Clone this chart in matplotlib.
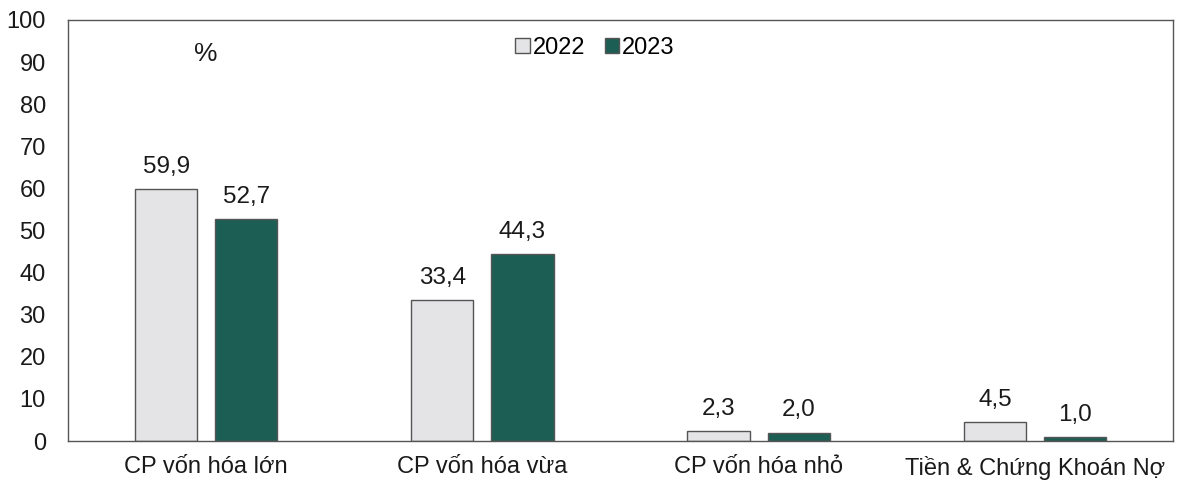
import matplotlib.pyplot as plt
import numpy as np

categories = ["CP vốn hóa lớn", "CP vốn hóa vừa", "CP vốn hóa nhỏ", "Tiền & Chứng Khoán Nợ"]
values_2022 = [59.9, 33.4, 2.3, 4.5]
values_2023 = [52.7, 44.3, 2.0, 1.0]
series_names = ["2022", "2023"]
y_ticks = list(range(0, 101, 10))

plt.rcParams["font.family"] = ["Liberation Sans", "DejaVu Sans"]


def fmt(v):
    return f"{v:.1f}".replace(".", ",")


def main():
    fig = plt.figure(figsize=(11.78, 4.86), dpi=100)
    ax = fig.add_axes([68 / 1178, 45 / 486, 1105 / 1178, 421 / 486])

    x = np.arange(len(categories))
    width = 0.225
    off = 0.145

    b1 = ax.bar(x - off, values_2022, width, color="#e4e4e6", edgecolor="#555555",
                linewidth=1.0, label=series_names[0])
    b2 = ax.bar(x + off, values_2023, width, color="#1c5d54", edgecolor="#555555",
                linewidth=1.0, label=series_names[1])

    for bars, vals in [(b1, values_2022), (b2, values_2023)]:
        for rect, v in zip(bars, vals):
            ax.annotate(fmt(v), (rect.get_x() + rect.get_width() / 2, rect.get_height()),
                        xytext=(0, 8), textcoords="offset points",
                        ha="center", va="bottom", fontsize=17.5, color="#1a1a1a")

    ax.set_xlim(-0.5, len(categories) - 0.5)
    ax.set_ylim(0, 100)
    ax.set_yticks(y_ticks)
    ax.set_xticks(x)
    ax.set_xticklabels(categories)
    ax.tick_params(axis="both", length=0, labelsize=17, colors="#1a1a1a")
    ax.tick_params(axis="x", pad=11)
    ax.tick_params(axis="y", pad=16)

    for s in ax.spines.values():
        s.set_color("#555555")
        s.set_linewidth(1.0)

    ax.text(0.0, 92.0, "%", ha="center", va="center", fontsize=19, color="#1a1a1a")

    ax.legend(loc="upper center", bbox_to_anchor=(0.477, 1.01), ncol=2, frameon=False,
              fontsize=17, handlelength=0.6, handleheight=0.6, handletextpad=0.15,
              columnspacing=0.8)

    fig.savefig("out.png", dpi=100)


if __name__ == "__main__":
    main()
